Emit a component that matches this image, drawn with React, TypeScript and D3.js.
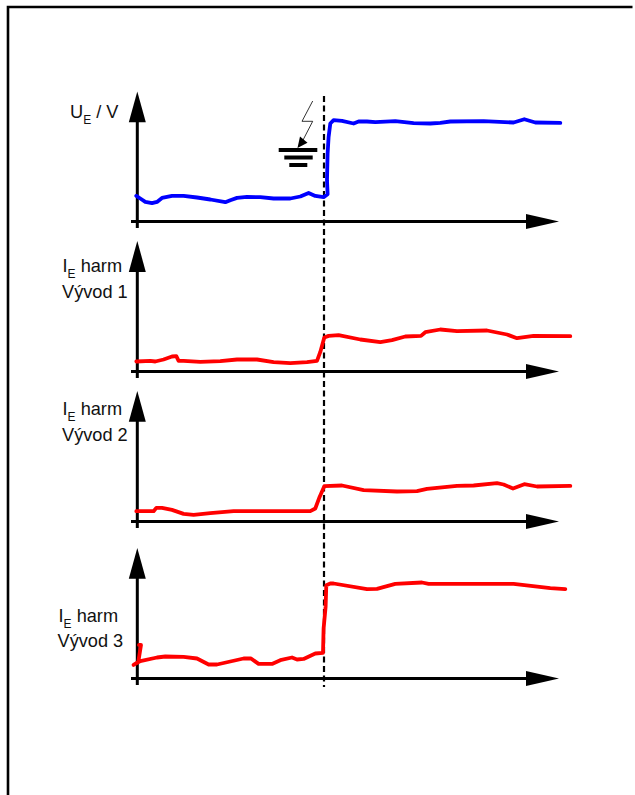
import React from "react";
import * as d3 from "d3";

type Pt = [number, number];

const blueTrace: Pt[] = [[-1,25.6],[3,23],[8,19.6],[14.7,18.3],[19.7,19.6],[24.7,23.6],[34.7,25.6],[46.3,25.6],[59.7,24],[73,22],[88,19.3],[93,21.3],[99.7,23.6],[109.7,24.6],[123,24.3],[136.3,23],[153,23],[163,25],[171.3,28.6],[178,25.6],[186.3,24.3],[190.3,27.3],[189.7,41.3],[190.3,68],[191.3,84.6],[193,98],[196.3,101.3],[204.7,100.6],[216.3,98],[221.3,100],[229.7,100],[238,99.3],[258,100.3],[276.3,98.3],[293,98],[303,98.6],[313,100],[346.3,100.3],[376.3,99],[387,102.3],[398,99],[423,98.6]];
const redTrace1: Pt[] = [[-1,10],[13,10.6],[18,10],[26.3,12],[34.7,15],[39,15.3],[41.3,10.6],[46.3,10.6],[63,9.6],[83,10.3],[99.7,12],[119.7,12],[136.3,9.3],[153,8.3],[169.7,9.3],[179.7,10.6],[183,19.6],[187,34],[191.3,35.6],[201.3,36.3],[223,32],[243,29.3],[254.7,31.3],[268,35],[283.7,35.6],[288,39.3],[303,42],[319.7,40.3],[349.7,41],[369.7,37],[379.7,33.3],[396.3,35.6],[433,35.3]];
const redTrace2: Pt[] = [[-1,10.3],[16.3,10.3],[19,13.6],[24.7,13.6],[34.7,11.6],[46.3,7.6],[56.3,6.6],[73,8.3],[96.3,10.3],[173,10.3],[178,13],[182.3,24.6],[187,35.3],[204.7,36],[226.3,31.3],[259.7,30],[279.7,30.3],[289.7,32.6],[319.7,35.6],[336.3,36],[359.7,38.3],[366.3,37],[375.7,33],[387,37.3],[399.7,35],[433,35.6]];
const redTrace3: Pt[] = [[1.7,33.6],[3.7,33.6],[1,16.6],[-3.7,13.6],[3,17.3],[19.7,21],[28,22],[46.3,21.6],[59.7,20],[71.3,14],[79.7,14],[106.3,20],[113.7,20],[121.3,14.6],[134.7,14.6],[143,18.3],[154.7,21],[159.7,19],[166.3,19.6],[178,25],[185.7,25.6],[186.3,50],[188.3,71.6],[189,93.3],[193,95],[196.3,95],[229.7,89.3],[239.7,89.6],[258,94.6],[284.7,96],[291.3,94.6],[376.3,94.6],[413,90.3],[428,89.3]];

const BLUE = "#0000ff";
const RED = "#ff0000";
const FONT = "'Liberation Sans', Arial, sans-serif";
const SIZE = 18.2;

const originX = 137.3;
const x = d3.scaleLinear().domain([0, 100]).range([originX, originX + 100]);
const xEnd = 526;
const xTip = 559;
const eventT = 186.7;
const line = (axisY: number) => {
  const y = d3.scaleLinear().domain([0, 100]).range([axisY, axisY - 100]);
  return d3.line<Pt>().x(d => x(d[0])).y(d => y(d[1])).curve(d3.curveLinear);
};

const panels = [
  { axisY: 221.5, tip: 91.5, base: 122.3, trace: blueTrace, color: BLUE },
  { axisY: 371.5, tip: 241, base: 272, trace: redTrace1, color: RED },
  { axisY: 521.5, tip: 391, base: 421.7, trace: redTrace2, color: RED },
  { axisY: 678.5, tip: 548, base: 578.7, trace: redTrace3, color: RED },
];

const Label = ({ x: lx, y, name, sub = "E", rest }: { x: number; y: number; name: string; sub?: string; rest: string }) => (
  <text x={lx} y={y} fontFamily={FONT} fontSize={SIZE} fill="#111">
    {name}
    <tspan fontSize={12} dy={5.5}>{sub}</tspan>
    <tspan dy={-5.5}>{rest}</tspan>
  </text>
);

export default function App() {
  return (
    <svg width={635} height={795} style={{ position: "absolute", left: 0, top: 0, background: "#fff" }}>
      <path d="M8,795 V7 H632.5" fill="none" stroke="#000" strokeWidth={2.6} />
      {panels.map((p, i) => (
        <g key={i}>
          <line x1={x(0)} x2={x(0)} y1={p.base - 1} y2={p.axisY + 6.5} stroke="#000" strokeWidth={3} />
          <path d={`M${x(0)},${p.tip} L${x(0) + 8.5},${p.base} H${x(0) - 8.5} Z`} fill="#000" />
          <line x1={131} x2={xEnd + 1} y1={p.axisY} y2={p.axisY} stroke="#000" strokeWidth={3} />
          <path d={`M${xTip},${p.axisY} L${xEnd},${p.axisY + 7.5} V${p.axisY - 7.5} Z`} fill="#000" />
        </g>
      ))}
      <line x1={x(eventT)} x2={x(eventT)} y1={96} y2={687} stroke="#000" strokeWidth={2.2} strokeDasharray="6 3.5" />
      {panels.map((p, i) => (
        <path key={i} d={line(p.axisY)(p.trace) ?? ""} fill="none" stroke={p.color} strokeWidth={3.8} strokeLinejoin="round" strokeLinecap="round" />
      ))}
      <g>
        <path d="M312.7,101 L302,121.3 H312.7 L302,142" fill="none" stroke="#000" strokeWidth={0.8} />
        <path d="M297.5,148 L300,136.5 L307.5,142.7 Z" fill="#000" />
        <rect x={278.7} y={148} width={38.6} height={4} fill="#000" />
        <rect x={284.3} y={155.5} width={28.4} height={4} fill="#000" />
        <rect x={289.3} y={163} width={18} height={4} fill="#000" />
      </g>
      <Label x={70} y={118} name="U" rest=" / V" />
      <Label x={62.5} y={272} name="I" rest=" harm" />
      <text x={62} y={298} fontFamily={FONT} fontSize={SIZE} fill="#111">Vývod 1</text>
      <Label x={62.5} y={415} name="I" rest=" harm" />
      <text x={62} y={441} fontFamily={FONT} fontSize={SIZE} fill="#111">Vývod 2</text>
      <Label x={58.5} y={622} name="I" rest=" harm" />
      <text x={57.5} y={647} fontFamily={FONT} fontSize={SIZE} fill="#111">Vývod 3</text>
    </svg>
  );
}
